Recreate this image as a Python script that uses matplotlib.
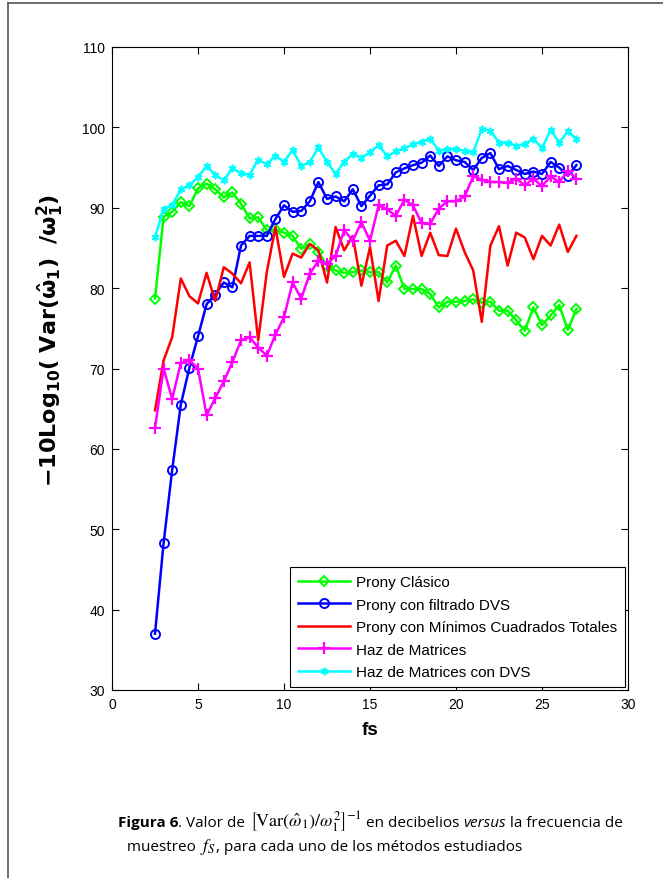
import numpy as np
import matplotlib
matplotlib.use("Agg")
import matplotlib.pyplot as plt
from matplotlib.lines import Line2D

fs = [2.5 + 0.5 * i for i in range(50)]

prony_clasico = [78.7, 88.9, 89.5, 90.7, 90.2, 92.4, 93.0, 92.3, 91.3, 91.9,
                 90.5, 88.7, 88.8, 87.2, 87.3, 86.9, 86.5, 84.9, 85.5, 84.5,
                 82.8, 82.2, 81.9, 82.0, 82.2, 82.0, 82.0, 80.7, 82.8, 79.9,
                 79.9, 79.9, 79.3, 77.6, 78.3, 78.3, 78.4, 78.6, 78.2, 78.3,
                 77.2, 77.2, 76.0, 74.7, 77.6, 75.4, 76.6, 77.9, 74.8, 77.4]

prony_dvs = [37.0, 48.3, 57.4, 65.5, 70.1, 74.0, 78.0, 79.2, 80.7, 80.1,
             85.3, 86.5, 86.5, 86.5, 88.6, 90.3, 89.5, 89.6, 90.8, 93.2,
             91.1, 91.4, 90.8, 92.3, 90.2, 91.5, 92.8, 92.9, 94.4, 94.9,
             95.3, 95.6, 96.5, 95.2, 96.4, 95.9, 95.7, 94.7, 96.2, 96.8,
             94.8, 95.2, 94.7, 94.2, 94.5, 94.2, 95.7, 95.0, 94.0, 95.3]

prony_mct = [64.8, 71.0, 73.9, 81.2, 79.0, 78.1, 81.9, 78.4, 82.6, 81.8,
             80.6, 83.2, 73.5, 82.0, 87.6, 81.4, 84.3, 83.8, 85.5, 84.7,
             80.7, 87.6, 84.7, 86.5, 80.3, 85.1, 78.4, 85.3, 85.9, 84.0,
             89.0, 84.0, 86.9, 84.1, 84.0, 87.4, 84.5, 82.2, 75.8, 85.3,
             87.7, 82.8, 86.9, 86.3, 83.6, 86.5, 85.3, 87.9, 84.5, 86.5]

haz_matrices = [62.6, 70.0, 66.2, 70.7, 71.0, 70.0, 64.2, 66.3, 68.4, 70.8,
                73.5, 73.9, 72.6, 71.6, 74.2, 76.4, 80.7, 78.7, 81.8, 83.4,
                83.0, 84.0, 87.2, 85.9, 88.2, 85.9, 90.3, 89.8, 89.0, 91.0,
                90.3, 88.1, 88.0, 89.9, 90.8, 90.8, 91.4, 93.9, 93.5, 93.2,
                93.2, 93.1, 93.6, 92.8, 93.6, 92.7, 93.9, 93.2, 94.6, 93.6]

haz_dvs = [86.3, 89.9, 90.3, 92.3, 92.8, 93.8, 95.2, 94.1, 93.4, 94.9,
           94.3, 94.1, 96.0, 95.4, 96.5, 95.7, 97.2, 95.2, 95.7, 97.5,
           95.7, 94.2, 95.7, 96.7, 96.2, 96.9, 97.8, 96.4, 97.0, 97.4,
           97.9, 98.2, 98.6, 97.1, 97.3, 97.3, 97.1, 96.9, 99.8, 99.6,
           98.1, 98.1, 97.7, 97.9, 98.6, 97.4, 99.7, 98.1, 99.5, 98.6]

labels = ["Prony Clásico", "Prony con filtrado DVS",
          "Prony con Mínimos Cuadrados Totales", "Haz de Matrices",
          "Haz de Matrices con DVS"]

xticks = [0, 5, 10, 15, 20, 25, 30]
yticks = [30, 40, 50, 60, 70, 80, 90, 100, 110]

W, H = 663, 879
fig = plt.figure(figsize=(W / 100, H / 100), dpi=100)
ax = fig.add_axes([112 / W, 1 - 691 / H, (628 - 112) / W, (691 - 48) / H])

lw = 1.8
ax.plot(fs, prony_clasico, color="#00ff00", lw=lw, marker="D", ms=5.5,
        mfc="none", mew=1.4, label=labels[0])
ax.plot(fs, prony_dvs, color="#0000ff", lw=lw, marker="o", ms=6.5,
        mfc="none", mew=1.4, label=labels[1])
ax.plot(fs, prony_mct, color="#ff0000", lw=lw, label=labels[2])
ax.plot(fs, haz_matrices, color="#ff00ff", lw=lw, marker="+", ms=9,
        mew=1.6, label=labels[3])
ax.plot(fs, haz_dvs, color="#00ffff", lw=lw, marker=(6, 2, 0), ms=5.5,
        mew=1.2, label=labels[4])

ax.set_xlim(0, 30)
ax.set_ylim(30, 110)
ax.set_xticks(xticks)
ax.set_yticks(yticks)
ax.tick_params(direction="in", length=5, width=0.8, top=True, right=True,
               labelsize=10, pad=5)
for lab in ax.get_xticklabels() + ax.get_yticklabels():
    lab.set_family("Liberation Sans")
for s in ax.spines.values():
    s.set_linewidth(0.8)

ax.set_xlabel("fs", fontsize=13.5, fontweight="bold", family="Liberation Sans",
              labelpad=7)
ax.set_ylabel(r"$\mathbf{-10Log_{10}(\ Var(\hat{\omega}_1)\ \ /\omega_1^2)}$",
              fontsize=16)
ax.yaxis.set_label_coords(-0.09, 0.545)

leg = ax.legend(loc="lower right", handlelength=3.4,
                borderaxespad=0.2, frameon=True, fancybox=False,
                edgecolor="black", framealpha=1, borderpad=0.5,
                labelspacing=0.56, handletextpad=0.4,
                prop={"family": "Liberation Sans", "size": 11}, numpoints=1)
leg.get_frame().set_linewidth(0.8)

# page border
fig.add_artist(Line2D([8 / W, 8 / W], [0, 1 - 4 / H], color="#555555", lw=1.2,
                      transform=fig.transFigure))
fig.add_artist(Line2D([8 / W, 1], [1 - 4 / H, 1 - 4 / H], color="#555555",
                      lw=1.2, transform=fig.transFigure))

# caption
fig.canvas.draw()
renderer = fig.canvas.get_renderer()
cap_font = "Open Sans"
pieces = [
    ("Figura 6", dict(fontweight="bold", family=cap_font, fontsize=11)),
    (". Valor de ", dict(family=cap_font, fontsize=11)),
    (r"$\left[\mathrm{Var}(\hat{\omega}_{1})/\omega_1^2\right]^{-1}$",
     dict(math_fontfamily="stix", family=cap_font, fontsize=13)),
    (" en decibelios ", dict(family=cap_font, fontsize=11)),
    ("versus", dict(style="italic", family=cap_font, fontsize=11)),
    (" la frecuencia de", dict(family=cap_font, fontsize=11)),
]
x = 118
y1 = H - 827
for s, kw in pieces:
    t = fig.text(x / W, y1 / H, s, ha="left", va="baseline",
                 transform=fig.transFigure, **kw)
    bb = t.get_window_extent(renderer)
    x = bb.x1

pieces2 = [
    ("muestreo ", dict(family=cap_font, fontsize=11)),
    (r"$f_S$", dict(math_fontfamily="stix", family=cap_font, fontsize=13)),
    (", para cada uno de los métodos estudiados",
     dict(family=cap_font, fontsize=11)),
]
x = 127
y2 = H - 851
for s, kw in pieces2:
    t = fig.text(x / W, y2 / H, s, ha="left", va="baseline",
                 transform=fig.transFigure, **kw)
    bb = t.get_window_extent(renderer)
    x = bb.x1

fig.savefig("out.png", dpi=100)
